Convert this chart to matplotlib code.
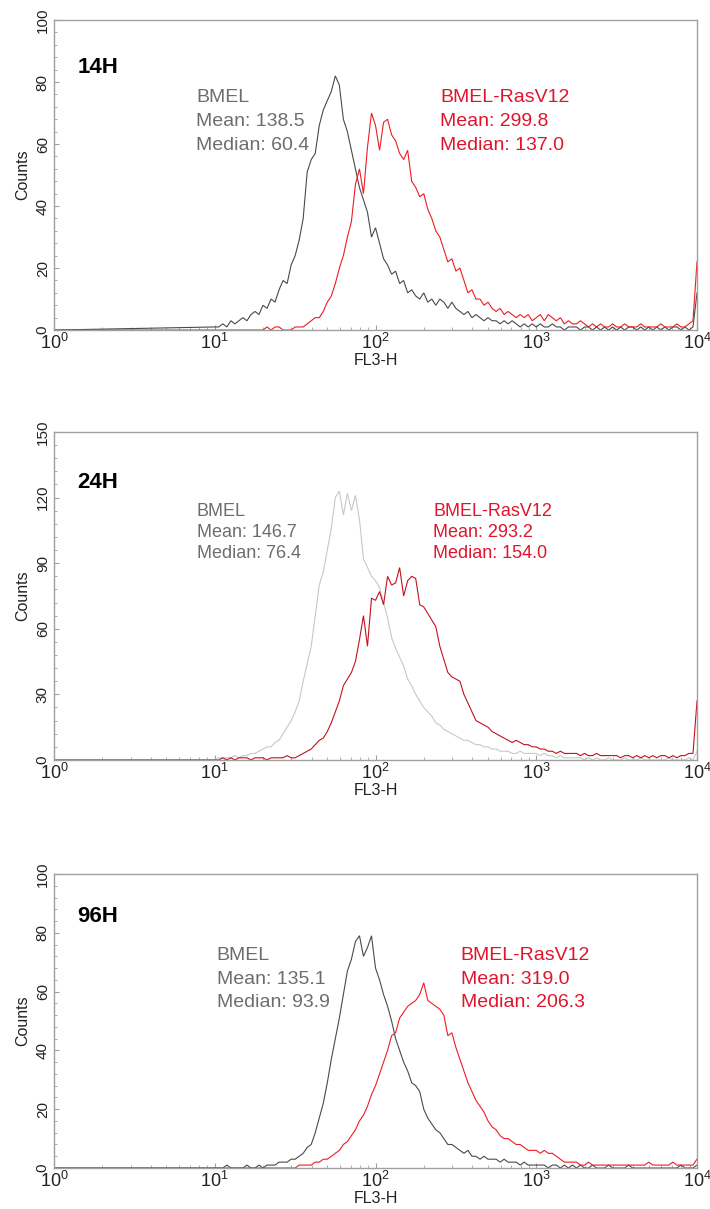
import numpy as np
import matplotlib
matplotlib.use('Agg')
import matplotlib.pyplot as plt
from matplotlib.ticker import AutoMinorLocator, MultipleLocator

plt.rcParams['font.family'] = ['Liberation Sans', 'DejaVu Sans']
plt.rcParams['mathtext.fontset'] = 'custom'
plt.rcParams['mathtext.rm'] = 'Liberation Sans'
plt.rcParams['mathtext.default'] = 'regular'

# FL3-H channel grid: log10 position of first bin and bin width (decades)
LOG_START = 1.0
LOG_STEP = 0.025

# counts per bin (10^1 .. 10^3.975)
bmel_14h = [
    1, 1, 2, 1, 3, 2, 3, 4, 3, 5,
    6, 5, 8, 7, 10, 9, 13, 16, 15, 21,
    24, 29, 36, 51, 55, 57, 66, 71, 74, 77,
    82, 79, 68, 64, 58, 52, 46, 42, 38, 30,
    33, 28, 23, 21, 18, 19, 15, 16, 12, 13,
    11, 10, 12, 9, 10, 8, 10, 9, 7, 9,
    7, 6, 5, 6, 4, 5, 4, 3, 4, 3,
    3, 2, 3, 2, 3, 2, 1, 2, 1, 2,
    1, 2, 1, 1, 2, 1, 1, 0, 1, 1,
    1, 0, 1, 1, 0, 1, 0, 1, 0, 1,
    0, 1, 0, 1, 1, 0, 1, 0, 1, 0,
    1, 0, 1, 0, 1, 1, 0, 1, 0, 1,
]
ras_14h = [
    0, 0, 0, 0, 0, 0, 0, 0, 0, 0,
    0, 0, 0, 1, 0, 1, 1, 0, 0, 0,
    1, 1, 1, 2, 3, 4, 4, 6, 9, 11,
    15, 20, 24, 30, 35, 47, 52, 44, 59, 70,
    66, 58, 67, 68, 63, 61, 57, 55, 58, 48,
    46, 43, 44, 39, 36, 32, 30, 26, 22, 23,
    19, 20, 16, 12, 13, 10, 10, 8, 9, 7,
    6, 7, 5, 6, 5, 4, 5, 4, 5, 3,
    4, 5, 3, 5, 4, 3, 4, 2, 3, 2,
    2, 3, 2, 1, 2, 1, 2, 1, 1, 2,
    1, 1, 2, 1, 1, 1, 2, 1, 1, 1,
    1, 2, 1, 1, 1, 2, 1, 1, 2, 3,
]
bmel_24h = [
    0, 1, 1, 1, 1, 2, 1, 2, 2, 3,
    3, 4, 5, 6, 6, 8, 9, 12, 15, 18,
    22, 27, 36, 44, 52, 66, 80, 86, 96, 106,
    120, 123, 112, 122, 114, 121, 110, 92, 88, 84,
    82, 79, 72, 65, 56, 51, 47, 43, 37, 34,
    30, 27, 24, 22, 20, 17, 16, 14, 13, 12,
    11, 10, 9, 9, 8, 7, 7, 6, 6, 5,
    5, 4, 4, 4, 3, 3, 4, 3, 3, 3,
    3, 2, 3, 2, 2, 1, 2, 1, 1, 1,
    1, 1, 0, 1, 0, 1, 0, 0, 1, 0,
    0, 0, 1, 0, 0, 0, 1, 0, 0, 0,
    0, 0, 0, 1, 0, 0, 0, 0, 1, 0,
]
ras_24h = [
    0, 0, 1, 0, 1, 0, 1, 1, 1, 0,
    1, 1, 1, 0, 1, 1, 1, 1, 2, 1,
    1, 2, 3, 4, 5, 7, 9, 10, 13, 17,
    22, 27, 34, 37, 40, 45, 55, 66, 52, 74,
    73, 77, 71, 84, 80, 81, 88, 75, 82, 84,
    83, 71, 70, 67, 64, 61, 52, 46, 40, 38,
    37, 36, 30, 26, 22, 18, 17, 16, 15, 13,
    12, 11, 10, 9, 8, 9, 8, 7, 7, 6,
    6, 5, 5, 4, 4, 3, 4, 3, 3, 3,
    3, 2, 3, 2, 2, 3, 2, 2, 2, 2,
    2, 1, 2, 2, 1, 2, 1, 2, 1, 2,
    1, 2, 2, 1, 2, 1, 2, 2, 3, 3,
]
bmel_96h = [
    0, 0, 0, 1, 0, 0, 0, 0, 1, 0,
    0, 1, 0, 1, 1, 1, 2, 2, 2, 3,
    3, 4, 5, 7, 8, 12, 17, 22, 29, 37,
    44, 51, 59, 67, 71, 77, 79, 72, 75, 79,
    68, 64, 59, 55, 50, 44, 40, 36, 33, 29,
    28, 26, 20, 17, 15, 13, 12, 10, 8, 8,
    7, 6, 5, 6, 4, 4, 3, 4, 3, 3,
    3, 2, 3, 2, 2, 2, 1, 2, 1, 1,
    1, 1, 1, 0, 1, 1, 0, 1, 0, 1,
    0, 1, 0, 0, 1, 0, 0, 0, 1, 0,
    0, 0, 0, 1, 0, 0, 0, 0, 0, 0,
    0, 0, 0, 0, 0, 0, 1, 0, 0, 0,
]
ras_96h = [
    0, 0, 0, 0, 0, 0, 0, 0, 0, 0,
    0, 0, 0, 0, 0, 0, 0, 0, 0, 0,
    0, 1, 1, 1, 1, 2, 2, 3, 3, 4,
    5, 6, 8, 9, 11, 13, 16, 18, 21, 25,
    28, 32, 36, 40, 45, 46, 51, 53, 55, 56,
    57, 59, 63, 57, 56, 55, 54, 52, 45, 46,
    41, 37, 33, 29, 26, 23, 21, 19, 16, 14,
    13, 11, 10, 10, 9, 8, 8, 7, 6, 6,
    6, 5, 6, 5, 5, 4, 3, 2, 2, 2,
    2, 1, 1, 2, 1, 1, 1, 1, 1, 1,
    1, 1, 1, 1, 1, 1, 1, 1, 2, 1,
    1, 1, 1, 1, 2, 1, 1, 1, 1, 1,
]

# off-scale events piled up in the last channel (10^4)
bmel_top = [12, 4, 1]
ras_top = [22, 27, 3]

panel_labels = ['14H', '24H', '96H']
bmel_mean = ['138.5', '146.7', '135.1']
bmel_median = ['60.4', '76.4', '93.9']
ras_mean = ['299.8', '293.2', '319.0']
ras_median = ['137.0', '154.0', '206.3']
y_max = [100, 150, 100]
y_step = [20, 30, 20]

bmel_series = [bmel_14h, bmel_24h, bmel_96h]
ras_series = [ras_14h, ras_24h, ras_96h]

# styles per panel
rects = [
    [0.0761, 0.7270, 0.9056, 0.2564],
    [0.0761, 0.3714, 0.9056, 0.2713],
    [0.0761, 0.0339, 0.9056, 0.2432],
]
bmel_line_colors = ['#4a4a4a', '#c8c8c8', '#4a4a4a']
ras_line_colors = ['#ee1c24', '#c4121c', '#ee1c24']
stat_font = [14, 13, 14]
line_gap = [17.3, 15.2, 17.0]   # points between text lines
label_y = [0.828, 0.828, 0.838]
bmel_text_xy = [(0.221, 0.735), (0.222, 0.744), (0.253, 0.707)]
ras_text_xy = [(0.601, 0.735), (0.590, 0.744), (0.6325, 0.707)]

GRAY_TEXT = '#6d6d6d'
RED_TEXT = '#e0142c'
FRAME = '#a0a0a0'

fig = plt.figure(figsize=(7.1, 12.09), dpi=100)

for i in range(3):
    ax = fig.add_axes(rects[i])

    # histogram lines
    for counts, top, color in [(bmel_series[i], bmel_top[i], bmel_line_colors[i]),
                               (ras_series[i], ras_top[i], ras_line_colors[i])]:
        assert len(counts) == 120
        x = 10 ** (LOG_START + LOG_STEP * np.arange(len(counts)))
        x = np.concatenate([[1.0], x, [1e4]])
        y = np.concatenate([[0], counts, [top]])
        ax.plot(x, y, color=color, lw=0.8, solid_joinstyle='miter')

    ax.set_xscale('log')
    ax.set_xlim(1, 1e4)
    ax.set_ylim(0, y_max[i])
    ax.yaxis.set_major_locator(MultipleLocator(y_step[i]))
    ax.yaxis.set_minor_locator(AutoMinorLocator(5))

    for s in ax.spines.values():
        s.set_color(FRAME)
        s.set_linewidth(1.0)

    ax.tick_params(which='both', direction='in', color=FRAME)
    ax.tick_params(which='major', length=3.5, width=0.8)
    ax.tick_params(which='minor', length=2, width=0.6)
    ax.tick_params(axis='x', labelsize=13, pad=2, labelcolor='#222222')
    ax.tick_params(axis='y', labelsize=11, pad=3, labelcolor='#222222', labelrotation=90)
    for lab in ax.get_yticklabels():
        lab.set_va('center')

    ax.set_xlabel('FL3-H', fontsize=11.5, labelpad=0, color='#222222')
    ax.set_ylabel('Counts', fontsize=11.5, labelpad=4, color='#222222')

    # panel time label
    ax.text(0.036, label_y[i], panel_labels[i], transform=ax.transAxes,
            fontsize=16, fontweight='bold', va='baseline')

    # statistics blocks
    blocks = [
        (bmel_text_xy[i], GRAY_TEXT, ['BMEL', 'Mean: ' + bmel_mean[i], 'Median: ' + bmel_median[i]]),
        (ras_text_xy[i], RED_TEXT, ['BMEL-RasV12', 'Mean: ' + ras_mean[i], 'Median: ' + ras_median[i]]),
    ]
    for (tx, ty), color, lines in blocks:
        for k, line in enumerate(lines):
            ax.annotate(line, xy=(tx, ty), xycoords='axes fraction',
                        xytext=(0, -k * line_gap[i]), textcoords='offset points',
                        fontsize=stat_font[i], color=color, va='baseline', ha='left')

fig.savefig('out.png', dpi=100)
